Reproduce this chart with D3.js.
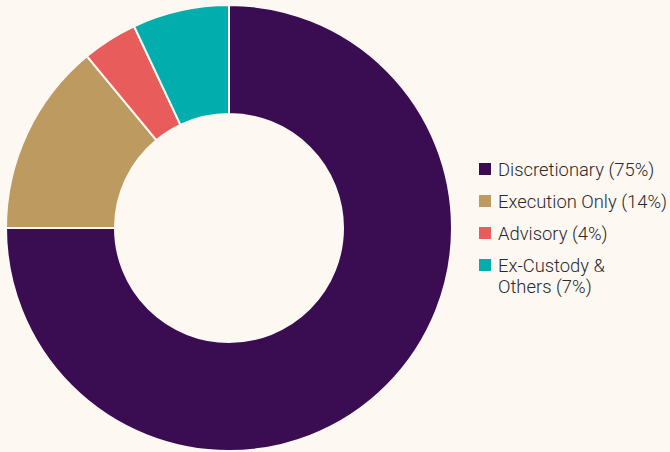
<!DOCTYPE html>
<html>
<head>
<meta charset="utf-8">
<script src="https://cdn.jsdelivr.net/npm/d3@7"></script>
<style>
  html, body { margin: 0; padding: 0; background: #fdf8f2; }
  svg { display: block; }
</style>
</head>
<body>
<svg id="chart" width="670" height="452"></svg>
<script>
// Share of assets by service type
const categories = ["Discretionary", "Execution Only", "Advisory", "Ex-Custody & Others"];
const shares = [75, 14, 4, 7];
const legendLines = [
  ["Discretionary (75%)"],
  ["Execution Only (14%)"],
  ["Advisory (4%)"],
  ["Ex-Custody &", "Others (7%)"]
];
const colors = ["#3a0c52", "#bd9a5f", "#e85d5c", "#02aead"];

const svg = d3.select("#chart");
const bg = "#fdf8f2";

const cx = 229, cy = 228, outerR = 223, innerR = 114;

const color = d3.scaleOrdinal().domain(categories).range(colors);

const data = categories.map((c, i) => ({ name: c, value: shares[i] }));
const pie = d3.pie().value(d => d.value).sort(null);
const arc = d3.arc().innerRadius(innerR).outerRadius(outerR);

svg.append("g")
  .attr("transform", `translate(${cx},${cy})`)
  .selectAll("path")
  .data(pie(data))
  .join("path")
  .attr("d", arc)
  .attr("fill", d => color(d.data.name))
  .attr("stroke", bg)
  .attr("stroke-width", 2);

// Legend
const legend = svg.append("g").attr("transform", "translate(479,0)");
const rowY = [176, 208, 240, 272];
const items = legend.selectAll("g.item")
  .data(data)
  .join("g")
  .attr("class", "item")
  .attr("transform", (d, i) => `translate(0,${rowY[i]})`);

items.append("rect")
  .attr("x", 0).attr("y", -13)
  .attr("width", 12).attr("height", 12)
  .attr("fill", d => color(d.name));

items.each(function(d, i) {
  const t = d3.select(this).append("text")
    .attr("x", 19)
    .attr("fill", "#2a2a2a")
    .style("font-family", "Roboto, 'Noto Sans', sans-serif")
    .style("font-weight", 300)
    .style("font-size", "18.4px");
  legendLines[i].forEach((line, j) => {
    t.append("tspan").attr("x", 19).attr("dy", j === 0 ? 0 : 21).text(line);
  });
});
</script>
</body>
</html>
